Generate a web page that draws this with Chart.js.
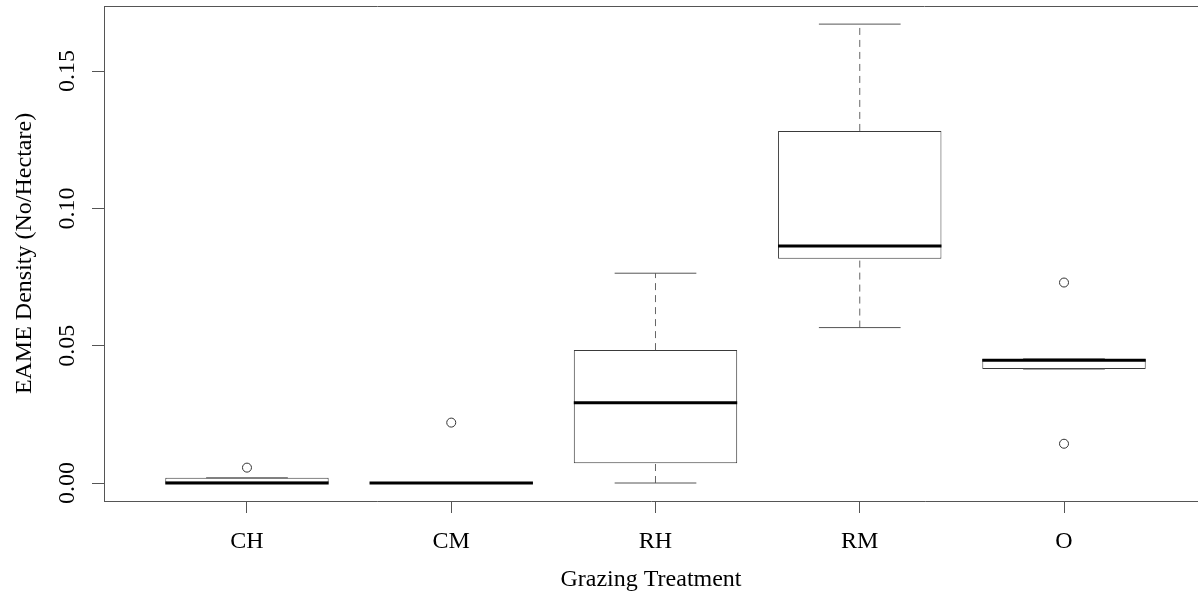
<!DOCTYPE html>
<html>
<head>
<meta charset="utf-8">
<script src="https://cdn.jsdelivr.net/npm/chart.js@4"></script>
<style>
  body { margin: 0; background: #fff; }
  #wrap { width: 1198px; height: 594px; position: relative; }
</style>
</head>
<body>
<div id="wrap"><canvas id="myChart"></canvas></div>
<script>
// box plot stats
var categories = ['CH', 'CM', 'RH', 'RM', 'O'];
var lowWhisker = [0, 0, 0, 0.0566, 0.0415];
var q1 = [0, 0, 0.0072, 0.0817, 0.0415];
var median = [0, 0, 0.0292, 0.0863, 0.0447];
var q3 = [0.0019, 0, 0.0484, 0.1282, 0.0452];
var highWhisker = [0.0019, 0, 0.0764, 0.1671, 0.0452];
var outliers = [[0.0056], [0.0220], [], [], [0.0730, 0.0143]];
var yTicks = [0, 0.05, 0.10, 0.15];

var serif = '"Liberation Serif", "DejaVu Serif", serif';
var lineCol = '#3a3a3a';

(function () {
  var boxes = [], whiskers = [], caps = [], medians = [], points = [];
  for (var i = 0; i < categories.length; i++) {
    var x = i + 1;
    boxes.push({ x: x, y: [q1[i], q3[i]] });
    whiskers.push({ x: x, y: q3[i] }, { x: x, y: highWhisker[i] }, { x: x, y: null });
    whiskers.push({ x: x, y: lowWhisker[i] }, { x: x, y: q1[i] }, { x: x, y: null });
    caps.push({ x: x - 0.2, y: highWhisker[i] }, { x: x + 0.2, y: highWhisker[i] }, { x: x, y: null });
    caps.push({ x: x - 0.2, y: lowWhisker[i] }, { x: x + 0.2, y: lowWhisker[i] }, { x: x, y: null });
    medians.push({ x: x - 0.4, y: median[i] }, { x: x + 0.4, y: median[i] }, { x: x, y: null });
    for (var j = 0; j < outliers[i].length; j++) points.push({ x: x, y: outliers[i][j] });
  }

  // top edge of the R frame
  var frameTop = {
    id: 'frameTop',
    afterDraw: function (chart) {
      var a = chart.chartArea, c = chart.ctx;
      c.save();
      c.strokeStyle = '#555';
      c.lineWidth = 1;
      c.beginPath();
      c.moveTo(a.left, a.top + 0.5);
      c.lineTo(a.right, a.top + 0.5);
      c.stroke();
      c.restore();
    }
  };

  var ctx = document.getElementById('myChart');
  new Chart(ctx, {
    type: 'bar',
    data: {
      datasets: [{
        type: 'scatter',
        data: points,
        order: 0,
        pointStyle: 'circle',
        pointRadius: 4.5,
        borderWidth: 1,
        borderColor: '#333',
        backgroundColor: '#fff'
      }, {
        type: 'line',
        data: medians,
        order: 1,
        borderColor: '#000',
        borderWidth: 3,
        borderCapStyle: 'butt',
        pointRadius: 0,
        spanGaps: false
      }, {
        type: 'line',
        data: caps,
        order: 2,
        borderColor: '#555',
        borderWidth: 1,
        pointRadius: 0,
        spanGaps: false
      }, {
        type: 'line',
        data: whiskers,
        order: 3,
        borderColor: '#666',
        borderWidth: 1,
        borderDash: [7, 5],
        pointRadius: 0,
        spanGaps: false
      }, {
        type: 'bar',
        data: boxes,
        order: 4,
        backgroundColor: '#fff',
        borderColor: lineCol,
        borderWidth: 1,
        borderSkipped: false,
        barPercentage: 0.8,
        categoryPercentage: 1
      }]
    },
    options: {
      responsive: true,
      maintainAspectRatio: false,
      animation: false,
      devicePixelRatio: 1,
      layout: { autoPadding: false, padding: { top: 6, right: 0, bottom: 0, left: 0 } },
      plugins: {
        legend: { display: false },
        tooltip: { enabled: false }
      },
      scales: {
        x: {
          type: 'linear',
          offset: false,
          min: 0.3,
          max: 5.656,
          afterBuildTicks: function (s) {
            s.ticks = categories.map(function (c, i) { return { value: i + 1 }; });
          },
          afterFit: function (s) {
            s.height = 93;
            s.paddingLeft = 0;
            s.paddingRight = 0;
          },
          ticks: {
            color: '#000',
            font: { family: serif, size: 24 },
            padding: 14,
            callback: function (v) { return categories[Math.round(v) - 1]; }
          },
          grid: { display: true, offset: false, drawOnChartArea: false, tickLength: 12, color: '#555' },
          border: { display: true, color: '#555', width: 1 },
          title: {
            display: true,
            text: 'Grazing Treatment',
            color: '#000',
            font: { family: serif, size: 24 },
            padding: { top: 0, bottom: 0 }
          }
        },
        y: {
          type: 'linear',
          min: -0.00655,
          max: 0.1737,
          afterBuildTicks: function (s) {
            s.ticks = yTicks.map(function (v) { return { value: v }; });
          },
          afterFit: function (s) {
            s.width = 104;
            s.paddingTop = 0;
            s.paddingBottom = 0;
          },
          ticks: {
            color: '#000',
            font: { family: serif, size: 24 },
            minRotation: 90,
            maxRotation: 90,
            crossAlign: 'center',
            padding: 3,
            callback: function (v) { return v.toFixed(2); }
          },
          grid: { display: true, drawOnChartArea: false, tickLength: 12, color: '#555' },
          border: { display: true, color: '#555', width: 1 },
          title: {
            display: true,
            text: 'EAME Density (No/Hectare)',
            color: '#000',
            font: { family: serif, size: 24 },
            padding: { top: 10, bottom: 0 }
          }
        }
      }
    },
    plugins: [frameTop]
  });
}());
</script>
</body>
</html>
